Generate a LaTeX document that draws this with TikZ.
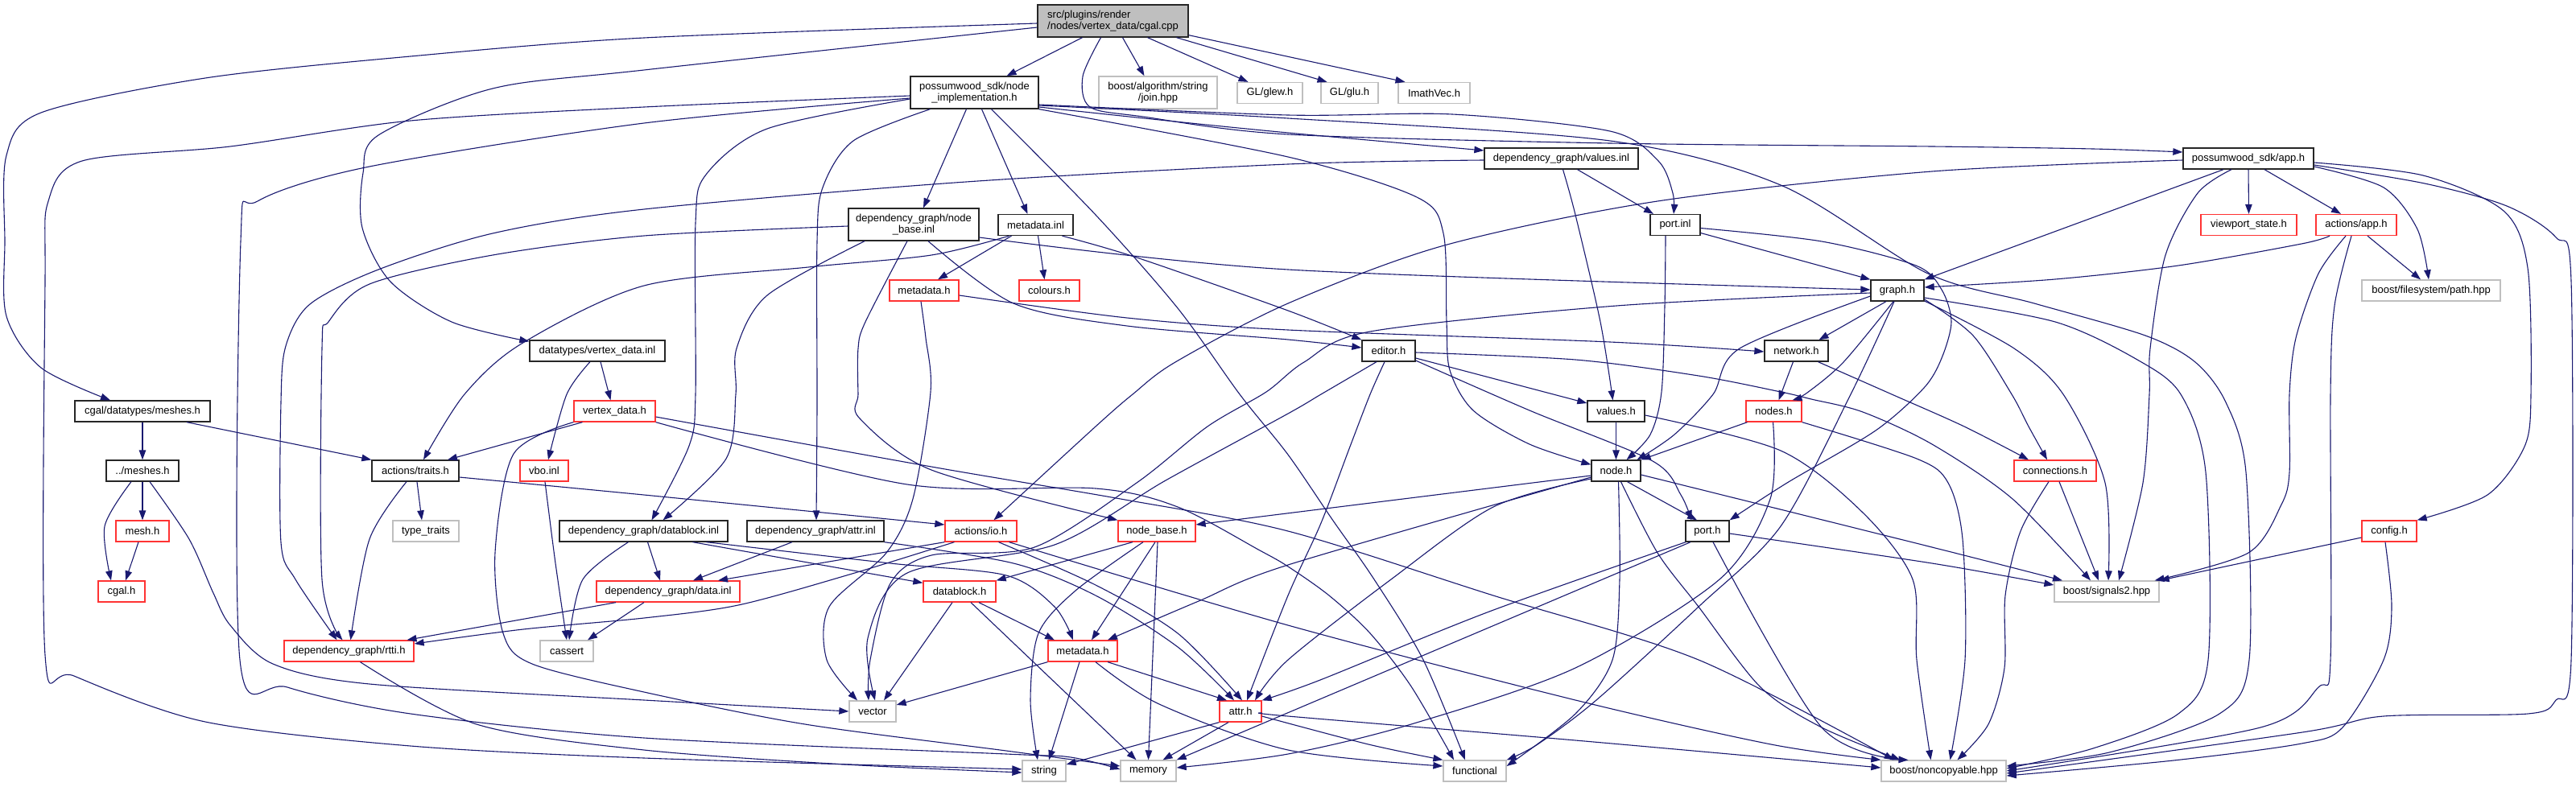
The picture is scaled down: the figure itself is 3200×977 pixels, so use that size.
\documentclass[tikz,border=0pt]{standalone}
\usepackage{fontspec}
\setmainfont{Liberation Sans}
\usetikzlibrary{arrows.meta}
\definecolor{edgec}{HTML}{191970}
\definecolor{redc}{HTML}{FF3333}
\definecolor{grayc}{HTML}{BFBFBF}
\newcommand{\route}[1]{\draw[dep] plot[smooth,tension=0.5] coordinates {#1};}
\begin{document}
\begin{tikzpicture}[x=1pt,y=-1pt,
  nbox/.style={draw=black!85, line width=1.3pt, fill=white, inner sep=0pt, minimum height=26pt, font=\fontsize{13}{14.5}\selectfont, align=center},
  rbox/.style={nbox, draw=redc},
  gbox/.style={nbox, draw=grayc},
  twoline/.style={minimum height=40pt},
  dep/.style={draw=edgec, line width=1.1pt, -{Triangle[length=12pt,width=8.5pt]}}
]
\fill[white] (0,0) rectangle (3200,977);
\useasboundingbox (0,0) rectangle (3200,977);

% ---------- nodes ----------
\node[nbox, twoline, fill=grayc, minimum width=187pt, align=left] (cpp) at (1382.5,26) {src/plugins/render\\/nodes/vertex\_data/cgal.cpp};
\node[nbox, twoline, minimum width=159pt] (nimpl) at (1210.5,115) {possumwood\_sdk/node\\\_implementation.h};
\node[gbox, twoline, minimum width=147pt] (join) at (1438.5,115) {boost/algorithm/string\\/join.hpp};
\node[gbox, minimum width=81pt] (glew) at (1577.5,115.5) {GL/glew.h};
\node[gbox, minimum width=71pt] (glu) at (1676.5,115.5) {GL/glu.h};
\node[gbox, minimum width=89pt] (imath) at (1781.5,115.5) {ImathVec.h};
\node[nbox, minimum width=191pt] (valinl) at (1939.5,197) {dependency\_graph/values.inl};
\node[nbox, minimum width=162pt] (apph) at (2793,197) {possumwood\_sdk/app.h};
\node[nbox, twoline, minimum width=162pt] (nbinl) at (1135,279) {dependency\_graph/node\\\_base.inl};
\node[nbox, minimum width=93pt] (mdinl) at (1286.5,279.5) {metadata.inl};
\node[nbox, minimum width=62pt] (portinl) at (2081,279.5) {port.inl};
\node[rbox, minimum width=119pt] (viewport) at (2793.5,279.5) {viewport\_state.h};
\node[rbox, minimum width=100pt] (actapp) at (2927,279.5) {actions/app.h};
\node[rbox, minimum width=86pt] (mdh1) at (1148,361) {metadata.h};
\node[rbox, minimum width=75pt] (colours) at (1303.5,361) {colours.h};
\node[nbox, minimum width=66pt] (graphh) at (2357,361) {graph.h};
\node[gbox, minimum width=172pt] (path) at (3020,361) {boost/filesystem/path.hpp};
\node[nbox, minimum width=168pt] (vdinl) at (742,436) {datatypes/vertex\_data.inl};
\node[nbox, minimum width=66pt] (editor) at (1725,436) {editor.h};
\node[nbox, minimum width=79pt] (network) at (2231.5,436) {network.h};
\node[nbox, minimum width=168pt] (meshes) at (177,511) {cgal/datatypes/meshes.h};
\node[rbox, minimum width=101pt] (vdh) at (763.5,511) {vertex\_data.h};
\node[nbox, minimum width=71pt] (valuesh) at (2007.5,511) {values.h};
\node[rbox, minimum width=69pt] (nodesh) at (2203.5,511) {nodes.h};
\node[nbox, minimum width=90pt] (dmeshes) at (177,585) {../meshes.h};
\node[nbox, minimum width=108pt] (traits) at (516,585) {actions/traits.h};
\node[rbox, minimum width=60pt] (vbo) at (676,585) {vbo.inl};
\node[nbox, minimum width=61pt] (nodeh) at (2007.5,585) {node.h};
\node[rbox, minimum width=102pt] (conn) at (2553,585) {connections.h};
\node[rbox, minimum width=66pt] (meshh) at (177,660) {mesh.h};
\node[gbox, minimum width=82pt] (typetraits) at (529,660) {type\_traits};
\node[nbox, minimum width=209pt] (dbinl) at (799.5,660) {dependency\_graph/datablock.inl};
\node[nbox, minimum width=170pt] (attrinl) at (1013,660) {dependency\_graph/attr.inl};
\node[rbox, minimum width=89pt] (ioh) at (1218.5,660) {actions/io.h};
\node[rbox, minimum width=96pt] (nbh) at (1437,660) {node\_base.h};
\node[nbox, minimum width=54pt] (porth) at (2121,660) {port.h};
\node[rbox, minimum width=68pt] (config) at (2968,660) {config.h};
\node[rbox, minimum width=58pt] (cgalh) at (151,735) {cgal.h};
\node[rbox, minimum width=178pt] (datainl) at (830,735) {dependency\_graph/data.inl};
\node[rbox, minimum width=90pt] (dbh) at (1192,735) {datablock.h};
\node[gbox, minimum width=130pt] (signals) at (2617,735) {boost/signals2.hpp};
\node[rbox, minimum width=161pt] (rtti) at (433.5,809) {dependency\_graph/rtti.h};
\node[gbox, minimum width=66pt] (cassert) at (704,809) {cassert};
\node[rbox, minimum width=86pt] (mdh2) at (1345,809) {metadata.h};
\node[gbox, minimum width=58pt] (vector) at (1084,884) {vector};
\node[rbox, minimum width=52pt] (attrh) at (1541,884) {attr.h};
\node[gbox, minimum width=54pt] (string) at (1297,958) {string};
\node[gbox, minimum width=69pt] (memory) at (1426.5,958) {memory};
\node[gbox, minimum width=78pt] (functional) at (1832,958) {functional};
\node[gbox, minimum width=155pt] (noncopy) at (2414.5,958) {boost/noncopyable.hpp};

% ---------- edges ----------
% cgal.cpp
\draw[dep] ([xshift=-38pt]cpp.south) -- ([xshift=40pt]nimpl.north);
\draw[dep] ([xshift=12pt]cpp.south) -- ([xshift=-17pt]join.north);
\draw[dep] ([xshift=43pt]cpp.south) -- ([xshift=-27pt]glew.north);
\draw[dep] ([xshift=79pt]cpp.south) -- ([xshift=-28pt]glu.north);
\draw[dep] ([yshift=3pt]cpp.south east) -- ([xshift=-36pt]imath.north);
\route{([yshift=-3pt]cpp.west) (800,47) (510,70) (255,97) (51,140) (8,193) (6,300) (8,393) (51,457) ([xshift=-40pt]meshes.north)}
\route{([yshift=-8pt]cpp.west) (800,87) (612,110) (470,168) (451,215) (450,283) (485,350) (561,400) ([yshift=-2pt]vdinl.north west)}
\route{([xshift=-15pt]cpp.south) (1345,95) (1354,133) (1420,145) (1600,167) (2000,178) (2400,182) (2600,185) ([yshift=8pt]apph.west)}

% node_implementation.h
\draw[dep] ([xshift=-10pt]nimpl.south) -- ([xshift=12pt]nbinl.north);
\draw[dep] ([xshift=9pt]nimpl.south) -- ([xshift=-10pt]mdinl.north);
\route{([xshift=21pt]nimpl.south) (1361,267) (1463,383) (1540,490) (1600,565) (1656,647) (1707,720) (1768,820) ([xshift=-12pt]functional.north)}
\route{([yshift=-4pt]nimpl.west) (800,133) (510,150) (286,182) (102,200) (60,250) (56,350) (56,814) (92,840) (255,897) (510,927) (800,942) ([yshift=2pt]string.west)}
\route{([yshift=-7pt]nimpl.west) (800,153) (459,207) (320,250) (299,300) (298,820) (357,854) (510,887) (800,917) (1250,937) (1330,941) ([yshift=2pt]memory.west)}
\route{([yshift=-8pt]nimpl.west) (953,160) (877,217) (864,277) (864,490) (856,554) ([xshift=10pt]dbinl.north)}
\route{([xshift=-55pt]nimpl.south) (1060,175) (1022,233) (1015,300) (1015,500) ([xshift=1pt]attrinl.north)}
\route{([yshift=-18pt]nimpl.east) (1450,150) (1600,165) ([yshift=10pt]valinl.west)}
\route{([yshift=-15pt]nimpl.east) (1600,143) (1804,142) (2000,163) (2060,200) (2078,240) ([xshift=-2pt]portinl.north)}
\route{([yshift=-16pt]nimpl.east) (1600,147) (2000,175) (2212,230) (2395,340) (2527,377) (2665,417) (2727,450) (2765,500) (2790,587) (2794,820) (2757,887) (2620,935) ([yshift=6pt]noncopy.east)}
\route{(nimpl.south east) (1600,195) (1760,245) (1793,290) (1797,400) (1801,460) (1830,510) (1900,552) ([yshift=-6pt]nodeh.north west)}

% values.inl
\route{([xshift=2pt]valinl.south) (1957,267) (1988,400) ([xshift=-4pt]valuesh.north)}
\draw[dep] ([xshift=20pt]valinl.south) -- ([xshift=-27pt]portinl.north);
\route{([yshift=-2pt]valinl.west) (1600,204) (1200,226) (800,260) (612,290) (470,335) (385,378) (355,430) (349,500) (349,674) (367,720) ([xshift=-15pt]rtti.north)}

% app.h
\draw[dep] (apph.south) -- (viewport.north);
\draw[dep] ([xshift=20pt]apph.south) -- ([xshift=-19pt]actapp.north);
\route{([yshift=-10pt]apph.east) (2961,233) (3003,285) ([xshift=-3pt]path.north)}
\draw[dep] ([xshift=-31pt]apph.south) -- (graphh.north east);
\route{([yshift=-2pt]apph.west) (2400,213) (2059,250) (1794,305) (1600,377) (1460,450) (1407,490) (1361,530) ([xshift=16pt]ioh.north)}
\route{([xshift=-21pt]apph.south) (2730,240) (2690,317) (2671,433) (2670,490) (2662,600) ([xshift=15pt]signals.north)}
\route{([yshift=-5pt]apph.east) (3010,218) (3110,262) (3140,333) (3144,490) (3136,555) (3090,615) (config.north east)}
\route{([yshift=-8pt]apph.east) (3012,228) (3114,256) (3175,295) (3194,350) (3194,820) (3175,870) (3140,887) (2961,890) (2860,910) ([yshift=-3pt]noncopy.east)}

% actions/app.h
\route{([xshift=-33pt]actapp.south) (2859,303) (2706,330) (2553,347) ([yshift=4pt]graphh.east)}
\draw[dep] ([xshift=14pt]actapp.south) -- ([xshift=-13pt]path.north);
\route{([xshift=-13pt]actapp.south) (2880,340) (2852,420) (2844,490) (2844,587) (2834,627) (2793,687) ([xshift=-6pt]signals.north east)}
\route{([xshift=-6pt]actapp.south) (2900,380) (2895,490) (2895,820) (2880,854) (2808,904) (noncopy.east)}

% config.h, connections.h
\draw[dep] ([yshift=-8pt]config.west) -- (signals.north east);
\route{([xshift=-5pt]config.south) (2971,754) (2961,820) (2910,904) (2859,924) (2700,945) ([yshift=-6pt]noncopy.east)}
\draw[dep] ([xshift=5pt]conn.south) -- ([xshift=-10pt]signals.north);
\route{([xshift=-8pt]conn.south) (2510,660) (2491,740) (2490,830) (2470,900) ([xshift=17pt]noncopy.north)}

% graph.h
\draw[dep] ([xshift=-14pt]graphh.south) -- ([xshift=28pt]network.north);
\route{([xshift=-5pt]graphh.south) (2290,450) (2245,488) ([xshift=23pt]nodesh.north)}
\route{([yshift=-7pt]graphh.west) (2161,433) (2128,490) (2080,540) ([xshift=26pt]nodeh.north)}
\route{([yshift=-3pt]graphh.west) (2008,380) (1702,412) (1620,450) (1573,487) (1500,530) (1412,600) (1285,680) (1157,690) (1106,725) (1081,820) ([xshift=-5pt]vector.north)}
\route{([xshift=-4pt]graphh.south) (2299,490) (2212,654) (2110,754) (1983,870) (1910,925) (functional.north east)}
\route{([yshift=-9pt]graphh.east) (2553,400) (2655,447) (2709,490) (2740,587) (2743,820) (2706,887) (2600,930) ([yshift=3pt]noncopy.east)}
\route{([yshift=-11pt]graphh.east) (2451,417) (2499,490) (2520,530) ([xshift=-10pt]conn.north)}
\route{([yshift=-13pt]graphh.east) (2502,433) (2563,490) (2615,600) ([xshift=2pt]signals.north)}

% port.inl
\draw[dep] ([yshift=-10pt]portinl.east) -- (graphh.north west);
\route{([yshift=-4pt]portinl.east) (2263,300) (2380,330) (2412,360) (2424,400) (2412,445) (2390,482) (2330,535) (2220,600) (porth.north east)}
\route{([xshift=-12pt]portinl.south) (2068,380) (2064,487) (2050,540) ([xshift=13pt]nodeh.north)}

% network.h, nodes.h, values.h
\draw[dep] ([xshift=-4pt]network.south) -- ([xshift=6pt]nodesh.north);
\route{([xshift=27pt]network.south) (2350,490) (2440,530) ([xshift=-33pt]conn.north)}
\draw[dep] ([xshift=-33pt]nodesh.south) -- (nodeh.north east);
\route{(nodesh.south east) (2381,570) (2420,600) (2438,670) (2441,820) ([xshift=8pt]noncopy.north)}
\route{([xshift=-1pt]nodesh.south) (2199,620) (2136,720) (1957,830) (1753,900) (1600,937) ([yshift=4pt]memory.east)}
\draw[dep] (valuesh.south) -- (nodeh.north);
\route{([yshift=-5pt]valuesh.east) (2212,560) (2314,637) (2376,720) (2381,820) ([xshift=-16pt]noncopy.north)}

% node.h
\draw[dep] ([yshift=-6pt]nodeh.west) -- ([yshift=8pt]nbh.east);
\route{([yshift=-8pt]nodeh.west) (1600,702) (1489,747) ([xshift=31pt]mdh2.north)}
\route{([yshift=-10pt]nodeh.west) (1855,630) (1728,720) (1600,820) ([xshift=18pt]attrh.north)}
\route{([xshift=3pt]nodeh.south) (2012,720) (2003,820) (1957,887) ([yshift=6pt]functional.east)}
\route{([xshift=6pt]nodeh.south) (2059,687) (2110,754) (2187,854) (2263,904) ([xshift=-54pt]noncopy.north)}
\route{([yshift=-5pt]nodeh.east) (2400,680) ([xshift=-55pt]signals.north)}
\draw[dep] ([xshift=14pt]nodeh.south) -- ([xshift=-13pt]porth.north);

% port.h
\route{([xshift=-27pt]porth.south) (1850,760) (1640,845) (attrh.north east)}
\draw[dep] ([xshift=-21pt]porth.south) -- (memory.north east);
\route{([xshift=7pt]porth.south) (2263,904) ([xshift=-44pt]noncopy.north)}
\route{([yshift=-3pt]porth.east) (2400,700) ([yshift=8pt]signals.west)}

% editor.h
\route{([xshift=-15pt]editor.south) (1641,490) (1600,514) (1448,597) (1310,677) (1127,712) (1078,793) ([xshift=3pt]vector.north)}
\route{([xshift=-5pt]editor.south) (1702,490) (1677,555) (1641,650) (1600,740) ([xshift=8pt]attrh.north)}
\route{([yshift=-12pt]editor.east) (1900,510) (2053,573) (2088,615) ([xshift=-20pt]porth.north)}
\draw[dep] ([yshift=-9pt]editor.east) -- ([yshift=10pt]valuesh.west);
\route{([yshift=-2pt]editor.east) (1957,447) (2110,467) (2212,487) (2250,496) (2314,512) (2400,552) (2500,620) ([xshift=-20pt]signals.north)}

% metadata.inl
\draw[dep] ([xshift=-30pt]mdinl.south) -- ([xshift=17pt]mdh1.north);
\draw[dep] ([xshift=3pt]mdinl.south) -- ([xshift=-6pt]colours.north);
\route{([xshift=-33pt]mdinl.south) (1157,317) (1004,332) (800,355) (648,427) (577,490) ([xshift=10pt]traits.north)}
\route{([xshift=33pt]mdinl.south) (1412,320) (1600,386) (editor.north west)}

% metadata.h (sdk)
\route{([xshift=-4pt]mdh1.south) (1150,420) (1156,487) (1134,620) (1101,687) (1030,754) (1027,820) ([xshift=-19pt]vector.north)}
\route{([yshift=-6pt]mdh1.east) (1400,395) (1600,410) (2000,425) ([yshift=-1pt]network.west)}

% node_base.inl
\route{([xshift=-61pt]nbinl.south) (953,367) (915,433) (914,490) (902,570) ([xshift=24pt]dbinl.north)}
\route{([yshift=-2pt]nbinl.west) (800,293) (612,317) (459,353) (408,400) (400,433) (400,720) ([xshift=-8pt]rtti.north)}
\route{([xshift=-8pt]nbinl.south) (1075,400) (1066,433) (1066,490) (1068,520) (1157,584) (nbh.north west)}
\route{([yshift=-16pt]nbinl.east) (1600,335) ([yshift=1pt]graphh.west)}
\route{([xshift=18pt]nbinl.south) (1259,377) (1400,405) (1600,422) ([yshift=4pt]editor.west)}

% vertex_data.inl, meshes
\route{([xshift=-9pt]vdinl.south) (704,490) ([xshift=5pt]vbo.north)}
\draw[dep] ([xshift=4pt]vdinl.south) -- ([xshift=-5pt]vdh.north);
\draw[dep] (meshes.south) -- (dmeshes.north);
\draw[dep] ([xshift=55pt]meshes.south) -- (traits.north west);
\draw[dep] (dmeshes.south) -- (meshh.north);
\route{([xshift=-14pt]dmeshes.south) (130,654) ([xshift=-13pt]cgalh.north)}
\draw[dep] ([xshift=-5pt]meshh.south) -- ([xshift=5pt]cgalh.north);
\route{([xshift=9pt]dmeshes.south) (235,670) (265,737) (286,777) (339,825) (459,850) (800,870) (vector.west)}

% traits, vertex_data.h, vbo
\draw[dep] ([xshift=2pt]traits.south) -- ([xshift=-5pt]typetraits.north);
\route{([xshift=-11pt]traits.south) (459,670) ([xshift=2pt]rtti.north)}
\route{([yshift=-8pt]traits.east) (800,615) ([yshift=8pt]ioh.west)}
\draw[dep] ([xshift=-40pt]vdh.south) -- ([xshift=40pt]traits.north);
\route{(vdh.south west) (638,564) (615,687) (625,787) (661,825) (800,860) (1000,900) (1250,933) ([yshift=6pt]memory.west)}
\route{([yshift=-7pt]vdh.east) (1157,580) (1392,620) (1600,660) (1855,740) (2110,820) ([xshift=-62pt]noncopy.north)}
\route{(vdh.south east) (1127,602) (1361,607) (1463,630) (1565,684) (1600,704) (1651,740) (1702,787) (1753,853) ([xshift=-26pt]functional.north)}
\route{([xshift=1pt]vbo.south) (690,700) (cassert.north)}

% datablock.inl, attr.inl
\draw[dep] ([xshift=5pt]dbinl.south) -- ([xshift=-10pt]datainl.north);
\draw[dep] ([xshift=61pt]dbinl.south) -- ([yshift=-3pt]dbh.north west);
\route{([xshift=-19pt]dbinl.south) (724,720) ([xshift=3pt]cassert.north)}
\route{([xshift=78pt]dbinl.south) (1106,700) (1250,715) (1310,754) ([xshift=-12pt]mdh2.north)}
\draw[dep] ([xshift=-29pt]attrinl.south) -- ([xshift=31pt]datainl.north);
\route{(attrinl.south east) (1259,700) (1361,740) (1463,804) ([xshift=-8pt]attrh.north)}

% actions/io.h
\draw[dep] (ioh.south west) -- ([xshift=62pt]datainl.north);
\route{([xshift=-33pt]ioh.south) (1055,714) (917,752) (800,768) (650,782) ([yshift=9pt]rtti.east)}
\route{([xshift=22pt]ioh.south) (1361,727) (1463,787) ([xshift=2pt]attrh.north)}
\route{([xshift=35pt]ioh.south) (1600,777) (1957,870) (2200,925) (noncopy.north west)}

% node_base.h
\draw[dep] ([xshift=-30pt]nbh.south) -- (dbh.north east);
\route{([xshift=-17pt]nbh.south) (1336,734) (1290,787) (1280,870) ([xshift=-8pt]string.north)}
\draw[dep] ([xshift=-2pt]nbh.south) -- ([xshift=11pt]mdh2.north);
\draw[dep] ([xshift=1pt]nbh.south) -- (memory.north);

% data.inl, datablock.h
\draw[dep] ([xshift=-30pt]datainl.south) -- ([xshift=26pt]cassert.north);
\draw[dep] ([xshift=-65pt]datainl.south) -- ([xshift=72pt]rtti.north);
\draw[dep] ([xshift=-9pt]dbh.south) -- ([xshift=14pt]vector.north);
\draw[dep] ([xshift=14pt]dbh.south) -- ([xshift=-15pt]memory.north);
\draw[dep] ([xshift=24pt]dbh.south) -- ([xshift=-35pt]mdh2.north);

% rtti.h, metadata.h, attr.h
\route{([xshift=14pt]rtti.south) (592,900) (800,932) (1050,950) ([yshift=-2pt]string.west)}
\draw[dep] (mdh2.south west) -- ([yshift=8pt]vector.east);
\draw[dep] ([xshift=-4pt]mdh2.south) -- ([xshift=6pt]string.north);
\route{([xshift=16pt]mdh2.south) (1440,875) (1600,932) ([yshift=6pt]functional.west)}
\draw[dep] ([xshift=31pt]mdh2.south) -- ([xshift=-17pt]attrh.north);
\draw[dep] (attrh.south west) -- ([yshift=8pt]string.east);
\draw[dep] ([xshift=-15pt]attrh.south) -- ([xshift=18pt]memory.north);
\route{([yshift=-6pt]attrh.east) (1700,925) (functional.north west)}
\route{([yshift=-2pt]attrh.east) (1600,890) (1957,920) ([yshift=4pt]noncopy.west)}
\end{tikzpicture}
\end{document}
